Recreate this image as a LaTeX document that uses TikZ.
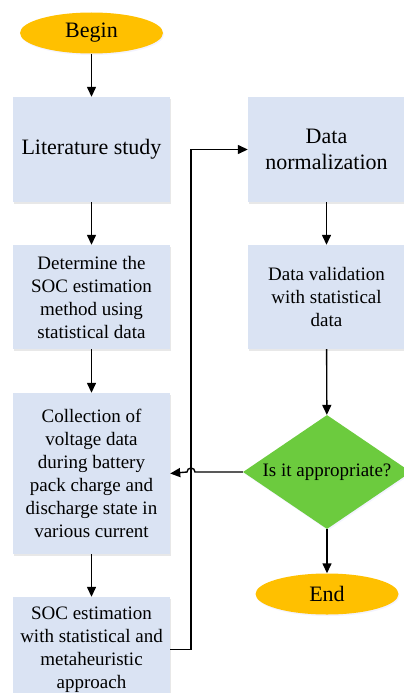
\documentclass[tikz,border=0pt]{standalone}
\usepackage{fontspec}
\setmainfont{Liberation Serif}
\usetikzlibrary{shapes.geometric,arrows.meta,shadows}
\definecolor{boxblue}{HTML}{DAE3F3}
\definecolor{startorange}{HTML}{FFC000}
\definecolor{askgreen}{HTML}{6CCB3E}
\tikzset{
  stepbox/.style={fill=boxblue, minimum width=157pt, inner sep=0pt, align=center,
    font=\fontsize{19}{23}\selectfont,
    drop shadow={opacity=0.18, shadow xshift=1pt, shadow yshift=-1.5pt}},
  terminal/.style={ellipse, fill=startorange, minimum width=143pt, minimum height=41pt,
    inner sep=0pt, font=\fontsize{22}{26}\selectfont,
    drop shadow={opacity=0.12, fill=blue!40, shadow xshift=1pt, shadow yshift=-1.5pt}},
  ask/.style={diamond, fill=askgreen, minimum width=168pt, minimum height=114pt,
    aspect=1.47, inner sep=0pt, font=\fontsize{19}{23}\selectfont,
    drop shadow={opacity=0.12, fill=blue!40, shadow xshift=1pt, shadow yshift=-1.5pt}},
  flow/.style={-{Triangle[length=10pt,width=9pt]}, line width=1.4pt}
}
\begin{document}
\begin{tikzpicture}[x=1pt,y=-1pt]
    \useasboundingbox (0,0) rectangle (404,693);
    \clip (0,0) rectangle (404,693);

    \node[terminal] (begin) at (91.5,33) {Begin};
    \node[stepbox, minimum height=105pt, font=\fontsize{22}{26}\selectfont] (lit) at (91.5,149.5) {Literature study};
    \node[stepbox, minimum height=104pt] (method) at (91.5,297) {Determine the\\SOC estimation\\method using\\statistical data};
    \node[stepbox, minimum height=161pt] (collect) at (91.5,473.5) {Collection of\\voltage data\\during battery\\pack charge and\\discharge state in\\various current};
    \node[stepbox, minimum height=105pt] (estimate) at (91.5,649.5) {SOC estimation\\with statistical and\\metaheuristic\\approach};

    \node[stepbox, minimum height=105pt, font=\fontsize{22}{26}\selectfont] (norm) at (326.5,149.5) {Data\\normalization};
    \node[stepbox, minimum height=104pt] (valid) at (326.5,297) {Data validation\\with statistical\\data};
    \node[ask] (check) at (327,472) {Is it appropriate?};
    \node[terminal] (end) at (327,594) {End};

    \draw[flow] (begin) -- (lit);
    \draw[flow] (lit) -- (method);
    \draw[flow] (method) -- (collect);
    \draw[flow] (collect) -- (estimate);

    \draw[flow] (norm) -- (valid);
    \draw[flow] (valid) -- (check);
    \draw[flow] (check) -- (end);

    \coordinate (loop) at (191,0);
    \draw[flow] (estimate.east) -- (estimate.east -| loop) -- (norm.west -| loop) -- (norm.west);
    \draw[flow] (check.west) -- ([xshift=4pt]check.west -| loop)
        arc[start angle=0, end angle=180, radius=4pt] -- (collect.east);
\end{tikzpicture}
\end{document}
